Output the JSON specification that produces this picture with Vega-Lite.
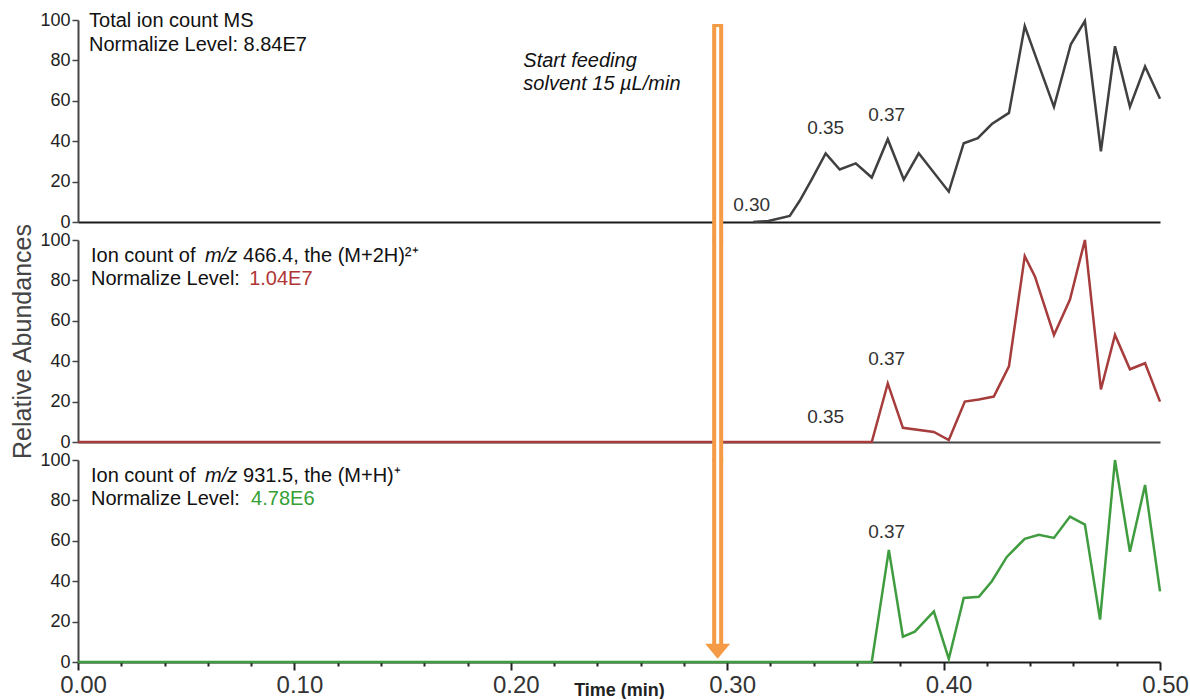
{
  "$schema": "https://vega.github.io/schema/vega-lite/v6.json",
  "background": "white",
  "padding": {"left": 10, "top": 11, "right": 0, "bottom": 0},
  "spacing": 18,
  "bounds": "flush",
  "config": {
    "view": {"stroke": null},
    "font": "Liberation Sans",
    "axis": {"grid": false}
  },
  "datasets": {
    "trace": [
      {"panel": "tic", "t": 0.312, "v": 0},
      {"panel": "tic", "t": 0.319, "v": 0.5},
      {"panel": "tic", "t": 0.3289, "v": 3},
      {"panel": "tic", "t": 0.3335, "v": 10.5},
      {"panel": "tic", "t": 0.339, "v": 21},
      {"panel": "tic", "t": 0.3455, "v": 34},
      {"panel": "tic", "t": 0.352, "v": 26},
      {"panel": "tic", "t": 0.3594, "v": 29},
      {"panel": "tic", "t": 0.3668, "v": 22},
      {"panel": "tic", "t": 0.3742, "v": 41},
      {"panel": "tic", "t": 0.3816, "v": 21},
      {"panel": "tic", "t": 0.3885, "v": 34},
      {"panel": "tic", "t": 0.4024, "v": 15},
      {"panel": "tic", "t": 0.4093, "v": 39},
      {"panel": "tic", "t": 0.4158, "v": 41.5},
      {"panel": "tic", "t": 0.4223, "v": 48.5},
      {"panel": "tic", "t": 0.4302, "v": 54},
      {"panel": "tic", "t": 0.4375, "v": 97},
      {"panel": "tic", "t": 0.4422, "v": 83},
      {"panel": "tic", "t": 0.451, "v": 57},
      {"panel": "tic", "t": 0.4588, "v": 88},
      {"panel": "tic", "t": 0.4653, "v": 99.5},
      {"panel": "tic", "t": 0.4727, "v": 35},
      {"panel": "tic", "t": 0.4792, "v": 87},
      {"panel": "tic", "t": 0.4861, "v": 57},
      {"panel": "tic", "t": 0.4931, "v": 77},
      {"panel": "tic", "t": 0.5, "v": 61},
      {"panel": "m466", "t": 0, "v": 0},
      {"panel": "m466", "t": 0.3668, "v": 0},
      {"panel": "m466", "t": 0.3742, "v": 29},
      {"panel": "m466", "t": 0.3812, "v": 7},
      {"panel": "m466", "t": 0.3955, "v": 5},
      {"panel": "m466", "t": 0.4024, "v": 1},
      {"panel": "m466", "t": 0.4098, "v": 20},
      {"panel": "m466", "t": 0.4163, "v": 21},
      {"panel": "m466", "t": 0.4232, "v": 22.5},
      {"panel": "m466", "t": 0.4302, "v": 37.5},
      {"panel": "m466", "t": 0.4375, "v": 92},
      {"panel": "m466", "t": 0.4422, "v": 82},
      {"panel": "m466", "t": 0.451, "v": 53},
      {"panel": "m466", "t": 0.4584, "v": 70.5},
      {"panel": "m466", "t": 0.4653, "v": 100},
      {"panel": "m466", "t": 0.4727, "v": 26},
      {"panel": "m466", "t": 0.4792, "v": 53},
      {"panel": "m466", "t": 0.4861, "v": 36},
      {"panel": "m466", "t": 0.4931, "v": 39},
      {"panel": "m466", "t": 0.5, "v": 20},
      {"panel": "m931", "t": 0, "v": 0},
      {"panel": "m931", "t": 0.3668, "v": 0},
      {"panel": "m931", "t": 0.3747, "v": 55.5},
      {"panel": "m931", "t": 0.3812, "v": 12.5},
      {"panel": "m931", "t": 0.3867, "v": 15},
      {"panel": "m931", "t": 0.3955, "v": 25},
      {"panel": "m931", "t": 0.4024, "v": 1.5},
      {"panel": "m931", "t": 0.4093, "v": 31.7},
      {"panel": "m931", "t": 0.4163, "v": 32.3},
      {"panel": "m931", "t": 0.4223, "v": 40},
      {"panel": "m931", "t": 0.4292, "v": 52},
      {"panel": "m931", "t": 0.4375, "v": 61},
      {"panel": "m931", "t": 0.444, "v": 63},
      {"panel": "m931", "t": 0.451, "v": 61.4},
      {"panel": "m931", "t": 0.4584, "v": 72},
      {"panel": "m931", "t": 0.4653, "v": 68},
      {"panel": "m931", "t": 0.4723, "v": 21},
      {"panel": "m931", "t": 0.4792, "v": 100},
      {"panel": "m931", "t": 0.4861, "v": 54.6},
      {"panel": "m931", "t": 0.4931, "v": 87.6},
      {"panel": "m931", "t": 0.5, "v": 35}
    ],
    "peaks": [
      {"panel": "tic", "t": 0.3113, "v": 8.4, "label": "0.30"},
      {"panel": "tic", "t": 0.3455, "v": 46.5, "label": "0.35"},
      {"panel": "tic", "t": 0.3737, "v": 53, "label": "0.37"},
      {"panel": "m466", "t": 0.3737, "v": 41.3, "label": "0.37"},
      {"panel": "m466", "t": 0.3455, "v": 12.4, "label": "0.35"},
      {"panel": "m931", "t": 0.3737, "v": 64.4, "label": "0.37"}
    ],
    "notes": [
      {"panel": "tic", "kind": "plain", "t": 0.0051, "v": 99.5, "text": "Total ion count MS"},
      {"panel": "tic", "kind": "plain", "t": 0.0051, "v": 87.5, "text": "Normalize Level: 8.84E7"},
      {"panel": "tic", "kind": "feed", "t": 0.2058, "v": 79.7, "text": "Start feeding"},
      {"panel": "tic", "kind": "feed", "t": 0.2058, "v": 68.3, "text": "solvent 15 µL/min"},
      {"panel": "m466", "kind": "plain", "t": 0.006, "v": 92, "text": "Ion count of"},
      {"panel": "m466", "kind": "mz", "t": 0.0587, "v": 92, "text": "m/z"},
      {"panel": "m466", "kind": "plain", "t": 0.0763, "v": 92, "text": "466.4, the  (M+2H)²⁺"},
      {"panel": "m466", "kind": "plain", "t": 0.006, "v": 80.5, "text": "Normalize Level:"},
      {"panel": "m466", "kind": "level", "t": 0.0791, "v": 80.5, "text": "1.04E7"},
      {"panel": "m931", "kind": "plain", "t": 0.006, "v": 92, "text": "Ion count of"},
      {"panel": "m931", "kind": "mz", "t": 0.0587, "v": 92, "text": "m/z"},
      {"panel": "m931", "kind": "plain", "t": 0.0763, "v": 92, "text": "931.5, the  (M+H)⁺"},
      {"panel": "m931", "kind": "plain", "t": 0.006, "v": 80.5, "text": "Normalize Level:"},
      {"panel": "m931", "kind": "level", "t": 0.0800, "v": 80.5, "text": "4.78E6"}
    ],
    "arrow": [
      {"panel": "tic", "t": 0.2956, "v": 98, "v2": -9.5},
      {"panel": "m466", "t": 0.2956, "v": 100.5, "v2": -9.5},
      {"panel": "m931", "t": 0.2956, "v": 100.5, "v2": 8}
    ],
    "head": [
      {"panel": "m931", "t": 0.2956, "v": 6}
    ]
  },
  "vconcat": [
    {
      "width": 1082,
      "height": 202,
      "layer": [
        {
          "data": {"name": "trace"},
          "transform": [{"filter": "datum.panel === 'tic'"}],
          "mark": {"type": "line", "color": "#404040", "strokeWidth": 2.5, "strokeJoin": "miter"},
          "encoding": {
            "x": {"field": "t", "type": "quantitative", "scale": {"domain": [0, 0.5], "nice": false, "zero": false},
              "axis": {"title": null, "labels": false, "ticks": false, "domainColor": "#1a1a1a", "domainWidth": 2}},
            "y": {"field": "v", "type": "quantitative", "scale": {"domain": [0, 100], "nice": false},
              "axis": {"title": null, "values": [0, 20, 40, 60, 80, 100], "tickSize": 6, "tickColor": "#444", "tickWidth": 1.5, "domainColor": "#444", "domainWidth": 2, "labelFontSize": 18, "labelColor": "#222", "labelPadding": 2}}
          }
        },
        {
          "data": {"name": "peaks"},
          "transform": [{"filter": "datum.panel === 'tic'"}],
          "mark": {"type": "text", "fontSize": 19, "color": "#333", "align": "center", "baseline": "middle"},
          "encoding": {"x": {"field": "t", "type": "quantitative", "scale": {"domain": [0, 0.5], "nice": false}}, "y": {"field": "v", "type": "quantitative", "scale": {"domain": [0, 100], "nice": false}}, "text": {"field": "label"}}
        },
        {
          "data": {"name": "notes"},
          "transform": [{"filter": "datum.panel === 'tic' && datum.kind === 'plain'"}],
          "mark": {"type": "text", "fontSize": 20, "color": "#111", "align": "left", "baseline": "middle"},
          "encoding": {"x": {"field": "t", "type": "quantitative"}, "y": {"field": "v", "type": "quantitative"}, "text": {"field": "text"}}
        },
        {
          "data": {"name": "notes"},
          "transform": [{"filter": "datum.panel === 'tic' && datum.kind === 'feed'"}],
          "mark": {"type": "text", "fontSize": 20, "fontStyle": "italic", "color": "#111", "align": "left", "baseline": "middle"},
          "encoding": {"x": {"field": "t", "type": "quantitative"}, "y": {"field": "v", "type": "quantitative"}, "text": {"field": "text"}}
        },
        {
          "data": {"name": "arrow"},
          "transform": [{"filter": "datum.panel === 'tic'"}],
          "mark": {"type": "rule", "color": "#f59a45", "strokeWidth": 11, "strokeCap": "butt", "clip": false},
          "encoding": {"x": {"field": "t", "type": "quantitative"}, "y": {"field": "v", "type": "quantitative"}, "y2": {"field": "v2"}}
        },
        {
          "data": {"name": "arrow"},
          "transform": [{"filter": "datum.panel === 'tic'"}],
          "mark": {"type": "rule", "color": "#ffffff", "strokeWidth": 3, "strokeCap": "butt", "yOffset": 3, "clip": false},
          "encoding": {"x": {"field": "t", "type": "quantitative"}, "y": {"field": "v", "type": "quantitative"}, "y2": {"field": "v2"}}
        }
      ]
    },
    {
      "width": 1082,
      "height": 202,
      "layer": [
        {
          "data": {"name": "trace"},
          "transform": [{"filter": "datum.panel === 'm466'"}],
          "mark": {"type": "line", "color": "#a63c3c", "strokeWidth": 2.5, "strokeJoin": "miter"},
          "encoding": {
            "x": {"field": "t", "type": "quantitative", "scale": {"domain": [0, 0.5], "nice": false, "zero": false},
              "axis": {"title": null, "labels": false, "ticks": false, "domainColor": "#444", "domainWidth": 2}},
            "y": {"field": "v", "type": "quantitative", "scale": {"domain": [0, 100], "nice": false},
              "axis": {"title": "Relative Abundances", "titleFontSize": 25, "titleFontWeight": "normal", "titleColor": "#444", "titlePadding": 4, "values": [0, 20, 40, 60, 80, 100], "tickSize": 6, "tickColor": "#444", "tickWidth": 1.5, "domainColor": "#444", "domainWidth": 2, "labelFontSize": 18, "labelColor": "#222", "labelPadding": 2}}
          }
        },
        {
          "data": {"name": "peaks"},
          "transform": [{"filter": "datum.panel === 'm466'"}],
          "mark": {"type": "text", "fontSize": 19, "color": "#333", "align": "center", "baseline": "middle"},
          "encoding": {"x": {"field": "t", "type": "quantitative", "scale": {"domain": [0, 0.5], "nice": false}}, "y": {"field": "v", "type": "quantitative", "scale": {"domain": [0, 100], "nice": false}}, "text": {"field": "label"}}
        },
        {
          "data": {"name": "notes"},
          "transform": [{"filter": "datum.panel === 'm466' && datum.kind === 'plain'"}],
          "mark": {"type": "text", "fontSize": 20, "color": "#111", "align": "left", "baseline": "middle"},
          "encoding": {"x": {"field": "t", "type": "quantitative"}, "y": {"field": "v", "type": "quantitative"}, "text": {"field": "text"}}
        },
        {
          "data": {"name": "notes"},
          "transform": [{"filter": "datum.panel === 'm466' && datum.kind === 'mz'"}],
          "mark": {"type": "text", "fontSize": 20, "fontStyle": "italic", "color": "#111", "align": "left", "baseline": "middle"},
          "encoding": {"x": {"field": "t", "type": "quantitative"}, "y": {"field": "v", "type": "quantitative"}, "text": {"field": "text"}}
        },
        {
          "data": {"name": "notes"},
          "transform": [{"filter": "datum.panel === 'm466' && datum.kind === 'level'"}],
          "mark": {"type": "text", "fontSize": 20, "color": "#b03535", "align": "left", "baseline": "middle"},
          "encoding": {"x": {"field": "t", "type": "quantitative"}, "y": {"field": "v", "type": "quantitative"}, "text": {"field": "text"}}
        },
        {
          "data": {"name": "arrow"},
          "transform": [{"filter": "datum.panel === 'm466'"}],
          "mark": {"type": "rule", "color": "#f59a45", "strokeWidth": 11, "strokeCap": "butt", "clip": false},
          "encoding": {"x": {"field": "t", "type": "quantitative"}, "y": {"field": "v", "type": "quantitative"}, "y2": {"field": "v2"}}
        },
        {
          "data": {"name": "arrow"},
          "transform": [{"filter": "datum.panel === 'm466'"}],
          "mark": {"type": "rule", "color": "#ffffff", "strokeWidth": 3, "strokeCap": "butt", "clip": false},
          "encoding": {"x": {"field": "t", "type": "quantitative"}, "y": {"field": "v", "type": "quantitative"}, "y2": {"field": "v2"}}
        }
      ]
    },
    {
      "width": 1082,
      "height": 202,
      "layer": [
        {
          "data": {"name": "trace"},
          "transform": [{"filter": "datum.panel === 'm931'"}],
          "mark": {"type": "line", "color": "#3f9c3f", "strokeWidth": 2.5, "strokeJoin": "miter"},
          "encoding": {
            "x": {"field": "t", "type": "quantitative", "scale": {"domain": [0, 0.5], "nice": false, "zero": false},
              "axis": {"title": "Time (min)", "titleFontSize": 18, "titleFontWeight": "bold", "titleColor": "#222", "titleBaseline": "middle", "titleY": 28,
                "values": [0, 0.01, 0.02, 0.03, 0.04, 0.05, 0.06, 0.07, 0.08, 0.09, 0.1, 0.11, 0.12, 0.13, 0.14, 0.15, 0.16, 0.17, 0.18, 0.19, 0.2, 0.21, 0.22, 0.23, 0.24, 0.25, 0.26, 0.27, 0.28, 0.29, 0.3, 0.31, 0.32, 0.33, 0.34, 0.35, 0.36, 0.37, 0.38, 0.39, 0.4, 0.41, 0.42, 0.43, 0.44, 0.45, 0.46, 0.47, 0.48, 0.49, 0.5],
                "labelExpr": "abs(datum.value * 10 - round(datum.value * 10)) < 0.001 ? format(datum.value, '.2f') : ''",
                "labelOverlap": false, "labelFontSize": 24, "labelColor": "#333", "labelPadding": 3, "labelOffset": 5, "labelFlush": false,
                "tickSize": {"condition": {"test": "abs(datum.value * 20 - round(datum.value * 20)) < 0.001", "value": 8}, "value": 4},
                "tickColor": "#222", "tickWidth": 2, "domainColor": "#1a1a1a", "domainWidth": 2}},
            "y": {"field": "v", "type": "quantitative", "scale": {"domain": [0, 100], "nice": false},
              "axis": {"title": null, "values": [0, 20, 40, 60, 80, 100], "tickSize": 6, "tickColor": "#444", "tickWidth": 1.5, "domainColor": "#444", "domainWidth": 2, "labelFontSize": 18, "labelColor": "#222", "labelPadding": 2}}
          }
        },
        {
          "data": {"name": "peaks"},
          "transform": [{"filter": "datum.panel === 'm931'"}],
          "mark": {"type": "text", "fontSize": 19, "color": "#333", "align": "center", "baseline": "middle"},
          "encoding": {"x": {"field": "t", "type": "quantitative", "scale": {"domain": [0, 0.5], "nice": false}}, "y": {"field": "v", "type": "quantitative", "scale": {"domain": [0, 100], "nice": false}}, "text": {"field": "label"}}
        },
        {
          "data": {"name": "notes"},
          "transform": [{"filter": "datum.panel === 'm931' && datum.kind === 'plain'"}],
          "mark": {"type": "text", "fontSize": 20, "color": "#111", "align": "left", "baseline": "middle"},
          "encoding": {"x": {"field": "t", "type": "quantitative"}, "y": {"field": "v", "type": "quantitative"}, "text": {"field": "text"}}
        },
        {
          "data": {"name": "notes"},
          "transform": [{"filter": "datum.panel === 'm931' && datum.kind === 'mz'"}],
          "mark": {"type": "text", "fontSize": 20, "fontStyle": "italic", "color": "#111", "align": "left", "baseline": "middle"},
          "encoding": {"x": {"field": "t", "type": "quantitative"}, "y": {"field": "v", "type": "quantitative"}, "text": {"field": "text"}}
        },
        {
          "data": {"name": "notes"},
          "transform": [{"filter": "datum.panel === 'm931' && datum.kind === 'level'"}],
          "mark": {"type": "text", "fontSize": 20, "color": "#35a035", "align": "left", "baseline": "middle"},
          "encoding": {"x": {"field": "t", "type": "quantitative"}, "y": {"field": "v", "type": "quantitative"}, "text": {"field": "text"}}
        },
        {
          "data": {"name": "arrow"},
          "transform": [{"filter": "datum.panel === 'm931'"}],
          "mark": {"type": "rule", "color": "#f59a45", "strokeWidth": 11, "strokeCap": "butt", "clip": false},
          "encoding": {"x": {"field": "t", "type": "quantitative"}, "y": {"field": "v", "type": "quantitative"}, "y2": {"field": "v2"}}
        },
        {
          "data": {"name": "arrow"},
          "transform": [{"filter": "datum.panel === 'm931'"}],
          "mark": {"type": "rule", "color": "#ffffff", "strokeWidth": 3, "strokeCap": "butt", "clip": false},
          "encoding": {"x": {"field": "t", "type": "quantitative"}, "y": {"field": "v", "type": "quantitative"}, "y2": {"field": "v2"}}
        },
        {
          "data": {"name": "head"},
          "mark": {"type": "point", "shape": "M -1 -0.5 L 1 -0.5 L 0 0.7 Z", "size": 625, "filled": true, "color": "#f59a45", "opacity": 1, "strokeWidth": 0, "clip": false},
          "encoding": {"x": {"field": "t", "type": "quantitative"}, "y": {"field": "v", "type": "quantitative"}}
        }
      ]
    }
  ]
}
